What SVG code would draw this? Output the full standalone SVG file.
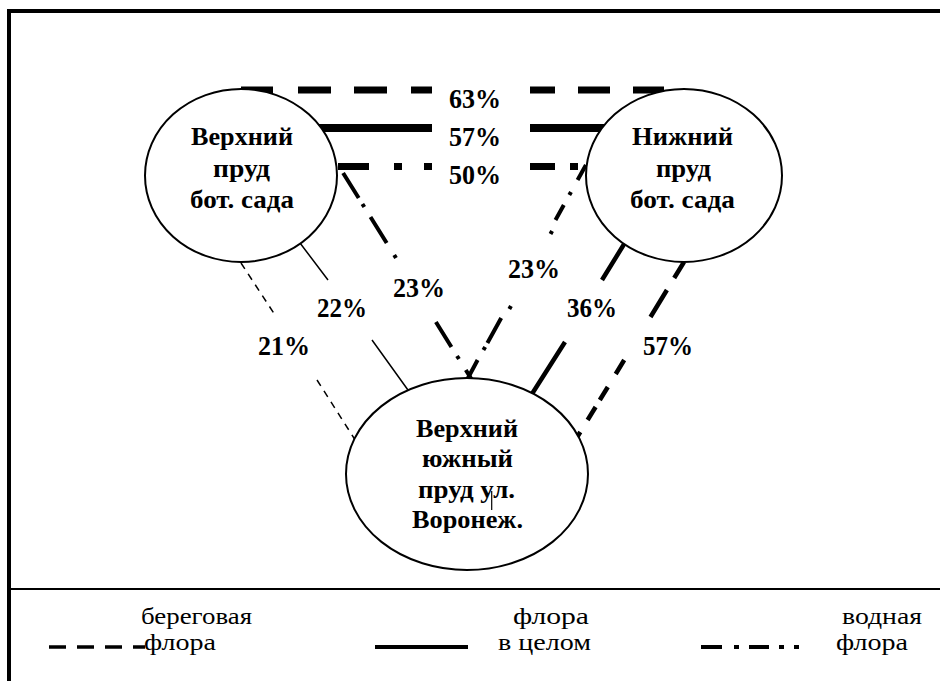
<svg xmlns="http://www.w3.org/2000/svg" width="940" height="681" viewBox="0 0 940 681">
<style>
.node ellipse{fill:#fff;stroke:#000;stroke-width:2}
.nt{font-family:"Liberation Serif","Times New Roman",serif;font-weight:bold;fill:#000}
.pc{font-family:"Liberation Serif","Times New Roman",serif;font-weight:bold;font-size:27px;fill:#000}
.lg{font-family:"Liberation Serif","Times New Roman",serif;font-size:24px;fill:#000}
.c{fill:none;stroke:#000;stroke-linecap:butt}
</style>
<rect width="940" height="681" fill="#fff"/>
<path d="M9,681 V11 H940" fill="none" stroke="#000" stroke-width="4" stroke-linejoin="miter"/>
<line x1="9" y1="589" x2="940" y2="589" stroke="#000" stroke-width="2"/>

<g id="connectors">
  <path class="c" stroke-width="7" d="M241,90H273M298,90H331M354,90H387M411,90H432M530,90H555M578,90H610M633,90H664"/>
  <path class="c" stroke-width="8" d="M318,128H432M530,128H606"/>
  <path class="c" stroke-width="7" d="M338,166.5H369M394,166.5H402M424,166.5H432M530,166.5H555M570,166.5H578"/>
  <path class="c" stroke-width="1.5" stroke-dasharray="7 6" d="M241,263L275,315M317,380L373,468"/>
  <path class="c" stroke-width="1.5" d="M300,243L328,280M372,340L413,397"/>
  <path class="c" stroke-width="4" d="M343.1,173L358.7,198M362.4,204L364.3,207M370.5,217L386.7,243M394.2,255L396,258M435.9,322L451.4,347M457,356L459,359M465.8,370L472,380"/>
  <path class="c" stroke-width="4" d="M585.9,165L577.6,180M571,192L569.3,195M563.8,205L555.5,220M552.1,231L550.5,234M511,306L509.3,309M501.2,318L487.4,343M485.2,347L483.4,350M477.6,360L468,378"/>
  <path class="c" stroke-width="4.5" d="M626,241L602,280M565,342L530,397"/>
  <path class="c" stroke-width="4.5" d="M684,262L674.2,278M666.9,290L650.5,317M624.2,360L615.7,374M607.8,387L599.8,400M595.6,407L587.6,420M580.3,432L573,444"/>
</g>

<g id="node-upper-pond" class="node">
  <ellipse cx="241" cy="175.5" rx="96" ry="86.5"/>
  <text class="nt" font-size="25" x="191" y="145" textLength="102" lengthAdjust="spacingAndGlyphs">Верхний</text>
  <text class="nt" font-size="25" x="213" y="177" textLength="57" lengthAdjust="spacingAndGlyphs">пруд</text>
  <text class="nt" font-size="25" x="190" y="208" textLength="104" lengthAdjust="spacingAndGlyphs">бот. сада</text>
</g>
<g id="node-lower-pond" class="node">
  <ellipse cx="684" cy="175.5" rx="98" ry="86.5"/>
  <text class="nt" font-size="25" x="632" y="145" textLength="101" lengthAdjust="spacingAndGlyphs">Нижний</text>
  <text class="nt" font-size="25" x="656" y="177" textLength="55" lengthAdjust="spacingAndGlyphs">пруд</text>
  <text class="nt" font-size="25" x="630" y="208" textLength="105" lengthAdjust="spacingAndGlyphs">бот. сада</text>
</g>
<g id="node-south-pond" class="node">
  <ellipse cx="467" cy="474" rx="121" ry="96"/>
  <text class="nt" font-size="26" x="416" y="437" textLength="102" lengthAdjust="spacingAndGlyphs">Верхний</text>
  <text class="nt" font-size="26" x="422" y="467" textLength="91" lengthAdjust="spacingAndGlyphs">южный</text>
  <text class="nt" font-size="26" x="418" y="498" textLength="97" lengthAdjust="spacingAndGlyphs">пруд ул.</text>
  <text class="nt" font-size="26" x="412" y="528" textLength="111" lengthAdjust="spacingAndGlyphs">Воронеж.</text>
  <line x1="491.7" y1="491" x2="491.7" y2="510" stroke="#000" stroke-width="1.2"/>
</g>

<g id="labels">
  <text class="pc" x="449" y="108" textLength="52" lengthAdjust="spacingAndGlyphs">63%</text>
  <text class="pc" x="449" y="146" textLength="52" lengthAdjust="spacingAndGlyphs">57%</text>
  <text class="pc" x="449" y="184" textLength="52" lengthAdjust="spacingAndGlyphs">50%</text>
  <text class="pc" x="258" y="355" textLength="52" lengthAdjust="spacingAndGlyphs">21%</text>
  <text class="pc" x="317" y="317" textLength="50" lengthAdjust="spacingAndGlyphs">22%</text>
  <text class="pc" x="393" y="297" textLength="52" lengthAdjust="spacingAndGlyphs">23%</text>
  <text class="pc" x="508" y="278" textLength="52" lengthAdjust="spacingAndGlyphs">23%</text>
  <text class="pc" x="567" y="317" textLength="50" lengthAdjust="spacingAndGlyphs">36%</text>
  <text class="pc" x="643" y="355" textLength="50" lengthAdjust="spacingAndGlyphs">57%</text>
</g>

<g id="legend">
  <path class="c" stroke-width="3.5" d="M49,647H66M77,647H94M105,647H122M133,647H145"/>
  <path class="c" stroke-width="4" d="M375,647H468"/>
  <path class="c" stroke-width="4" d="M701,647H722M734,647H739M749,647H769M779,647H784M794,647H799"/>
  <text class="lg" x="141" y="624" textLength="111" lengthAdjust="spacingAndGlyphs">береговая</text>
  <text class="lg" x="144" y="650" textLength="72" lengthAdjust="spacingAndGlyphs">флора</text>
  <text class="lg" x="513" y="624" textLength="76" lengthAdjust="spacingAndGlyphs">флора</text>
  <text class="lg" x="498" y="650" textLength="93" lengthAdjust="spacingAndGlyphs">в целом</text>
  <text class="lg" x="842" y="624" textLength="80" lengthAdjust="spacingAndGlyphs">водная</text>
  <text class="lg" x="836" y="650" textLength="72" lengthAdjust="spacingAndGlyphs">флора</text>
</g>
</svg>
